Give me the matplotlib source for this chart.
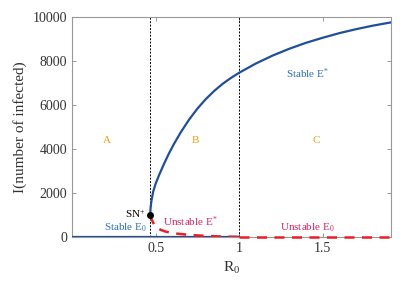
import matplotlib
matplotlib.use("Agg")
from matplotlib import pyplot

pyplot.rcParams['font.family'] = ['Liberation Serif', 'DejaVu Serif']
pyplot.rcParams['mathtext.fontset'] = 'custom'
pyplot.rcParams['mathtext.rm'] = 'Liberation Serif'
pyplot.rcParams['mathtext.it'] = 'Liberation Serif'

# data
R_sn = 0.467
I_sn = 1000

R_stable_star = [0.467, 0.47, 0.475, 0.485, 0.5, 0.52, 0.55, 0.58, 0.61,
                 0.65, 0.7, 0.75, 0.8, 0.85, 0.9, 0.95, 1.0, 1.1, 1.2,
                 1.3, 1.4, 1.5, 1.6, 1.7, 1.8, 1.91]
I_stable_star = [1000, 1350, 1650, 2050, 2420, 2800, 3320, 3800, 4230,
                 4750, 5330, 5830, 6260, 6630, 6950, 7220, 7460, 7880, 8240,
                 8550, 8820, 9050, 9260, 9440, 9600, 9750]

R_unstable_star = [0.467, 0.475, 0.49, 0.5, 0.53, 0.56, 0.6, 0.7, 0.8, 0.9, 1.0]
I_unstable_star = [1000, 800, 570, 470, 320, 240, 170, 90, 45, 15, 0]

R_stable_e0 = [0.0, 1.0]
I_stable_e0 = [0, 0]
R_unstable_e0 = [1.0, 1.91]
I_unstable_e0 = [0, 0]

regions = ["A", "B", "C"]
region_x = [0.21, 0.74, 1.46]

blue = '#1f4e9c'
blue_txt = '#2e6fbf'
red = '#ee1c25'
red_txt = '#e0245e'
orange = '#f39c12'

fig = pyplot.figure(figsize=(4.10, 2.81), dpi=100)
ax = fig.add_axes([0.176, 0.157, 0.778, 0.783])

ax.axvline(R_sn, color='k', ls='--', lw=0.7, dashes=(2, 1.5))
ax.axvline(1.0, color='k', ls='--', lw=0.7, dashes=(2, 1.5))

ax.plot(R_stable_e0, I_stable_e0, color=blue, lw=1.6, zorder=3)
ax.plot(R_stable_star, I_stable_star, color=blue, lw=1.6, zorder=3)
ax.plot(R_unstable_star, I_unstable_star, color=red, lw=1.8, ls='--',
        dashes=(4, 3), zorder=4)
ax.plot(R_unstable_e0, I_unstable_e0, color=red, lw=1.8, ls='--',
        dashes=(4, 3), zorder=4, clip_on=False)
ax.plot([R_sn], [I_sn], 'o', color='k', ms=4, zorder=5)

for lab, x in zip(regions, region_x):
    ax.text(x, 4400, lab, color=orange, fontsize=8, ha='center', va='center')

ax.text(1.41, 7400, 'Stable E$^{*}$', color=blue_txt, fontsize=8,
        ha='center', va='center')
ax.text(0.44, 1050, 'SN$^{+}$', color='k', fontsize=8, ha='right', va='center')
ax.text(0.545, 700, 'Unstable E$^{*}$', color=red_txt, fontsize=8,
        ha='left', va='center')
ax.text(0.32, 430, 'Stable E$_{0}$', color=blue_txt, fontsize=8,
        ha='center', va='center')
ax.text(1.41, 430, 'Unstable E$_{0}$', color=red_txt, fontsize=8,
        ha='center', va='center')

ax.set_xlim(0, 1.91)
ax.set_ylim(0, 10000)
ax.set_xticks([0.5, 1, 1.5])
ax.set_xticklabels(['0.5', '1', '1.5'])
ax.set_yticks([0, 2000, 4000, 6000, 8000, 10000])
ax.tick_params(direction='in', length=3, width=0.6, color='#888888',
               labelcolor='#333333', labelsize=10, top=True, right=True)
for s in ax.spines.values():
    s.set_color('#999999')
    s.set_linewidth(0.8)

ax.set_xlabel('R$_0$', fontsize=11, color='#333333', labelpad=4)
ax.set_ylabel('I(number of infected)', fontsize=11, color='#333333', labelpad=4)

fig.savefig('out.png', dpi=100)
